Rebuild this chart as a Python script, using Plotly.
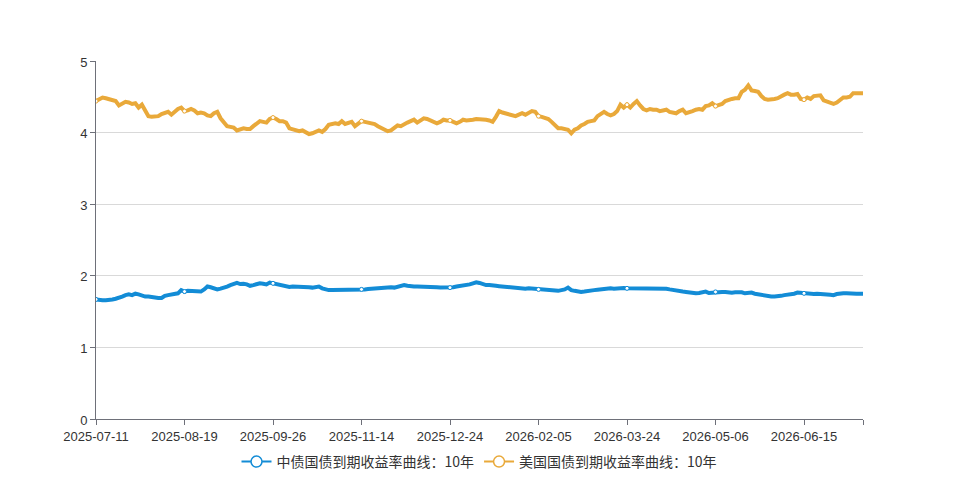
import pandas as pd
import plotly.graph_objects as go

# ---- data ----
holidays = ["2025-09-01", "2025-10-01", "2025-10-02", "2025-10-03", "2025-10-06", "2025-10-07",
            "2025-10-08", "2025-10-13", "2025-11-11", "2025-11-27", "2025-12-25", "2026-01-01",
            "2026-01-02", "2026-01-19", "2026-02-16", "2026-02-17", "2026-02-18", "2026-02-19",
            "2026-02-20", "2026-02-23", "2026-04-06", "2026-05-01", "2026-05-04", "2026-05-05",
            "2026-05-25", "2026-06-19", "2026-07-03"]
dates = [d.strftime("%Y-%m-%d") for d in pd.bdate_range("2025-07-11", "2026-07-13")
         if d.strftime("%Y-%m-%d") not in holidays]

tick_labels = ["2025-07-11", "2025-08-19", "2025-09-26", "2025-11-14", "2025-12-24",
               "2026-02-05", "2026-03-24", "2026-05-06", "2026-06-15"]

cn_10y = [
    1.67, 1.66, 1.66, 1.66, 1.66, 1.67, 1.68, 1.69, 1.71, 1.73,
    1.74, 1.73, 1.75, 1.74, 1.72, 1.71, 1.71, 1.70, 1.70, 1.69,
    1.69, 1.72, 1.73, 1.74, 1.74, 1.755, 1.80, 1.78, 1.79, 1.79,
    1.78, 1.79, 1.78, 1.81, 1.85, 1.84, 1.82, 1.81, 1.82, 1.83,
    1.85, 1.87, 1.89, 1.90, 1.885, 1.89, 1.88, 1.86, 1.87, 1.88,
    1.895, 1.89, 1.88, 1.905, 1.895, 1.885, 1.87, 1.86, 1.855, 1.845,
    1.85, 1.85, 1.84, 1.84, 1.85, 1.84, 1.835, 1.845, 1.85, 1.825,
    1.81, 1.80, 1.80, 1.80, 1.80, 1.80, 1.80, 1.805, 1.81, 1.81,
    1.81, 1.81, 1.81, 1.815, 1.82, 1.82, 1.82, 1.825, 1.83, 1.845,
    1.84, 1.835, 1.85, 1.86, 1.87, 1.86, 1.85, 1.85, 1.85, 1.85,
    1.845, 1.845, 1.845, 1.845, 1.84, 1.835, 1.835, 1.835, 1.835, 1.84,
    1.85, 1.855, 1.86, 1.87, 1.88, 1.895, 1.91, 1.90, 1.88, 1.87,
    1.87, 1.86, 1.86, 1.855, 1.85, 1.84, 1.835, 1.835, 1.835, 1.83,
    1.82, 1.82, 1.825, 1.82, 1.815, 1.81, 1.81, 1.805, 1.80, 1.80,
    1.795, 1.79, 1.80, 1.81, 1.835, 1.80, 1.79, 1.78, 1.775, 1.78,
    1.79, 1.795, 1.80, 1.805, 1.81, 1.815, 1.825, 1.825, 1.82, 1.825,
    1.835, 1.83, 1.825, 1.825, 1.82, 1.82, 1.825, 1.825, 1.82, 1.82,
    1.82, 1.825, 1.82, 1.82, 1.82, 1.81, 1.80, 1.795, 1.79, 1.78,
    1.775, 1.77, 1.755, 1.755, 1.76, 1.77, 1.78, 1.76, 1.765, 1.775,
    1.775, 1.775, 1.775, 1.765, 1.765, 1.77, 1.775, 1.77, 1.755, 1.76,
    1.765, 1.75, 1.74, 1.735, 1.73, 1.72, 1.71, 1.71, 1.71, 1.72,
    1.73, 1.735, 1.74, 1.75, 1.765, 1.76, 1.755, 1.745, 1.74, 1.745,
    1.75, 1.75, 1.745, 1.74, 1.735, 1.73, 1.745, 1.755, 1.755, 1.755,
    1.75, 1.75, 1.75, 1.75, 1.75,
]

us_10y = [
    4.44, 4.46, 4.49, 4.48, 4.47, 4.46, 4.44, 4.38, 4.40, 4.43,
    4.42, 4.40, 4.41, 4.35, 4.39, 4.30, 4.23, 4.22, 4.22, 4.23,
    4.26, 4.27, 4.29, 4.25, 4.29, 4.33, 4.35, 4.30, 4.31, 4.33,
    4.31, 4.27, 4.28, 4.27, 4.24, 4.23, 4.27, 4.29, 4.20, 4.15,
    4.09, 4.08, 4.07, 4.03, 4.04, 4.06, 4.05, 4.05, 4.09, 4.13,
    4.16, 4.15, 4.14, 4.19, 4.21, 4.19, 4.16, 4.16, 4.14, 4.06,
    4.05, 4.04, 4.02, 4.03, 4.01, 3.98, 3.99, 4.01, 4.03, 4.01,
    4.05, 4.11, 4.12, 4.13, 4.12, 4.16, 4.12, 4.13, 4.15, 4.09,
    4.13, 4.16, 4.15, 4.14, 4.14, 4.12, 4.09, 4.07, 4.04, 4.02,
    4.03, 4.07, 4.10, 4.09, 4.12, 4.14, 4.16, 4.18, 4.14, 4.17,
    4.20, 4.19, 4.17, 4.16, 4.13, 4.15, 4.18, 4.17, 4.17, 4.15,
    4.13, 4.15, 4.18, 4.17, 4.17, 4.18, 4.19, 4.19, 4.18, 4.18,
    4.17, 4.15, 4.22, 4.30, 4.28, 4.27, 4.25, 4.24, 4.23, 4.25,
    4.27, 4.25, 4.28, 4.30, 4.29, 4.23, 4.22, 4.21, 4.19, 4.15,
    4.10, 4.06, 4.06, 4.05, 4.04, 3.99, 4.04, 4.06, 4.10, 4.12,
    4.15, 4.16, 4.17, 4.23, 4.26, 4.29, 4.26, 4.24, 4.26, 4.30,
    4.39, 4.35, 4.39, 4.35, 4.40, 4.44, 4.38, 4.33, 4.31, 4.33,
    4.32, 4.32, 4.30, 4.31, 4.32, 4.29, 4.28, 4.27, 4.30, 4.32,
    4.27, 4.28, 4.30, 4.32, 4.33, 4.32, 4.37, 4.38, 4.41, 4.37,
    4.38, 4.40, 4.44, 4.46, 4.47, 4.48, 4.48, 4.57, 4.60, 4.66,
    4.59, 4.58, 4.57, 4.51, 4.47, 4.46, 4.46, 4.47, 4.48, 4.51,
    4.53, 4.55, 4.53, 4.53, 4.54, 4.47, 4.46, 4.49, 4.47, 4.51,
    4.52, 4.52, 4.45, 4.43, 4.41, 4.40, 4.42, 4.46, 4.49, 4.49,
    4.50, 4.55, 4.55, 4.54, 4.55,
]

names = ["中债国债到期收益率曲线：10年", "美国国债到期收益率曲线：10年"]
colors = ["#138cd6", "#e9a93a"]
symbol_step = 27

n = min(len(dates), len(cn_10y), len(us_10y))
x = dates[:n]

fig = go.Figure()
for vals, name, col in [(cn_10y, names[0], colors[0]), (us_10y, names[1], colors[1])]:
    v = vals[:n]
    fig.add_trace(go.Scatter(x=x, y=v, mode="lines", name=name, showlegend=False,
                             line=dict(color=col, width=4, shape="linear"),
                             hovertemplate="%{x}<br>" + name + ": %{y}<extra></extra>"))
    fig.add_trace(go.Scatter(x=x[::symbol_step], y=v[::symbol_step], mode="markers",
                             showlegend=False, hoverinfo="skip",
                             marker=dict(size=4, color="white", line=dict(color=col, width=1))))
for name, col in zip(names, colors):
    fig.add_trace(go.Scatter(x=[None], y=[None], mode="lines+markers", name=name,
                             line=dict(color=col, width=2),
                             marker=dict(size=11, color="white", symbol="circle",
                                         line=dict(color=col, width=1.5))))

tickvals = [d for d in tick_labels if d in x] + [x[-1]]
ticktext = [d for d in tick_labels if d in x] + [""]

tick_font = dict(family="Liberation Sans, Arial, sans-serif", size=13, color="#333")

fig.update_layout(
    width=959, height=480,
    margin=dict(l=96, r=96, t=61, b=61, autoexpand=False),
    paper_bgcolor="white", plot_bgcolor="white",
    font=dict(family="Noto Sans CJK SC, Noto Sans, sans-serif", size=12, color="#333"),
    showlegend=True,
    legend=dict(orientation="h", x=0.5, xanchor="center", xref="container",
                y=1 - 462 / 480, yanchor="middle", yref="container",
                font=dict(size=14, color="#333"), itemwidth=30, bgcolor="rgba(0,0,0,0)"),
)
fig.update_xaxes(type="category", range=[0, n - 1], tickmode="array",
                 tickvals=tickvals, ticktext=ticktext,
                 showline=True, linecolor="#6E7079", linewidth=1,
                 ticks="outside", ticklen=5, tickcolor="#6E7079",
                 showgrid=False, zeroline=False, tickfont=tick_font)
fig.update_yaxes(range=[0, 5], dtick=1, showline=True, linecolor="#6E7079", linewidth=1,
                 ticks="outside", ticklen=5, tickcolor="#6E7079",
                 showgrid=True, gridcolor="#d9d9d9", gridwidth=1, zeroline=False,
                 tickfont=tick_font, ticklabelshift=1)

fig.write_html("out.html")
